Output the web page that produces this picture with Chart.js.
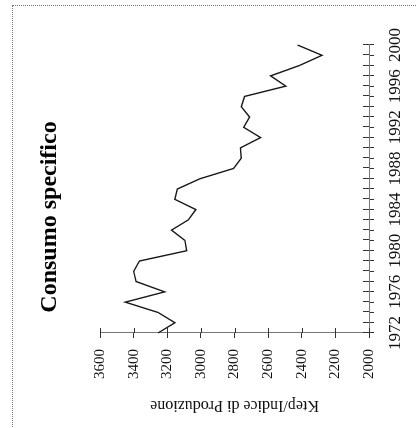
<!DOCTYPE html>
<html>
<head>
<meta charset="utf-8">
<script src="https://cdn.jsdelivr.net/npm/chart.js@4"></script>
<style>
  html, body { margin: 0; padding: 0; background: #fff; }
  body { width: 417px; height: 428px; overflow: hidden; position: relative; }
  #frame { position: absolute; left: 12px; top: 5px; width: 405px; height: 423px;
           border-left: 1px dotted #777; border-top: 1px dotted #777; }
  /* the scanned page is turned on its side: draw the chart upright, then rotate it */
  #turn { position: absolute; left: 0; top: 0; width: 428px; height: 417px;
          transform-origin: 0 0; transform: translate(0, 428px) rotate(-90deg); }
</style>
</head>
<body>
<div id="frame"></div>
<div id="turn"><canvas id="line-chart" width="428" height="417"></canvas></div>
<script>
const years = [1972, 1973, 1974, 1975, 1976, 1977, 1978, 1979, 1980, 1981,
               1982, 1983, 1984, 1985, 1986, 1987, 1988, 1989, 1990, 1991,
               1992, 1993, 1994, 1995, 1996, 1997, 1998, 1999, 2000];
const consumo = [3255, 3155, 3255, 3450, 3215, 3385, 3400, 3365, 3085, 3095,
                 3175, 3075, 3030, 3155, 3140, 3005, 2805, 2760, 2765, 2645,
                 2745, 2710, 2760, 2740, 2495, 2585, 2415, 2280, 2425];
const yearTickLabels = ['1972', '1976', '1980', '1984', '1988', '1992', '1996', '2000'];
const valueMin = 2000, valueMax = 3600, valueStep = 200;

Chart.defaults.font.family = "'Liberation Serif', 'Times New Roman', serif";
Chart.defaults.color = '#111';

// tick marks that cross the axis line (Chart.js only draws the outer half)
const innerTicks = {
    id: 'innerTicks',
    afterDraw(chart) {
        const {ctx, chartArea, scales} = chart;
        ctx.save();
        ctx.strokeStyle = '#333';
        ctx.lineWidth = 1;
        ctx.beginPath();
        scales.x.ticks.forEach((t, i) => {
            const p = Math.round(scales.x.getPixelForTick(i)) + 0.5;
            ctx.moveTo(p, chartArea.bottom);
            ctx.lineTo(p, chartArea.bottom - 6);
        });
        scales.y.ticks.forEach((t, i) => {
            const p = Math.round(scales.y.getPixelForTick(i)) + 0.5;
            ctx.moveTo(chartArea.left, p);
            ctx.lineTo(chartArea.left + 5, p);
        });
        ctx.stroke();
        ctx.restore();
    }
};

new Chart(document.getElementById("line-chart"), {
    type: 'line',
    data: {
        labels: years,
        datasets: [
            {
                label: "Consumo specifico",
                data: consumo,
                borderColor: '#1a1a1a',
                borderWidth: 1.4,
                pointRadius: 0,
                tension: 0,
                fill: false
            }
        ]
    },
    options: {
        responsive: false,
        animation: false,
        layout: {padding: {left: 39, right: 45, top: 0, bottom: 0}},
        plugins: {
            legend: {display: false},
            tooltip: {enabled: false},
            title: {
                display: true,
                text: 'Consumo specifico',
                color: '#000',
                font: {size: 24, weight: 'bold'},
                padding: {top: 35.6, bottom: 35.6}
            }
        },
        scales: {
            x: {
                type: 'category',
                offset: false,
                afterFit: (s) => { s.height = 48; },
                grid: {drawOnChartArea: false, drawTicks: true, tickLength: 5, color: '#333'},
                border: {color: '#777', width: 1},
                ticks: {
                    autoSkip: false,
                    maxRotation: 0,
                    padding: 11,
                    font: {size: 17},
                    callback: function (value) {
                        const lbl = String(this.getLabelForValue(value));
                        return yearTickLabels.includes(lbl) ? lbl : '';
                    }
                }
            },
            y: {
                min: valueMin,
                max: valueMax,
                afterFit: (s) => { s.width = 56; },
                grid: {drawOnChartArea: false, drawTicks: true, tickLength: 5, color: '#333'},
                border: {color: '#777', width: 1},
                ticks: {
                    stepSize: valueStep,
                    padding: 11,
                    font: {size: 15},
                    callback: (v) => String(v)
                },
                title: {
                    display: true,
                    text: 'Ktep/Indice di Produzione',
                    color: '#111',
                    font: {size: 16},
                    padding: {top: -25.6, bottom: 0}
                }
            }
        }
    },
    plugins: [innerTicks]
});
</script>
</body>
</html>
